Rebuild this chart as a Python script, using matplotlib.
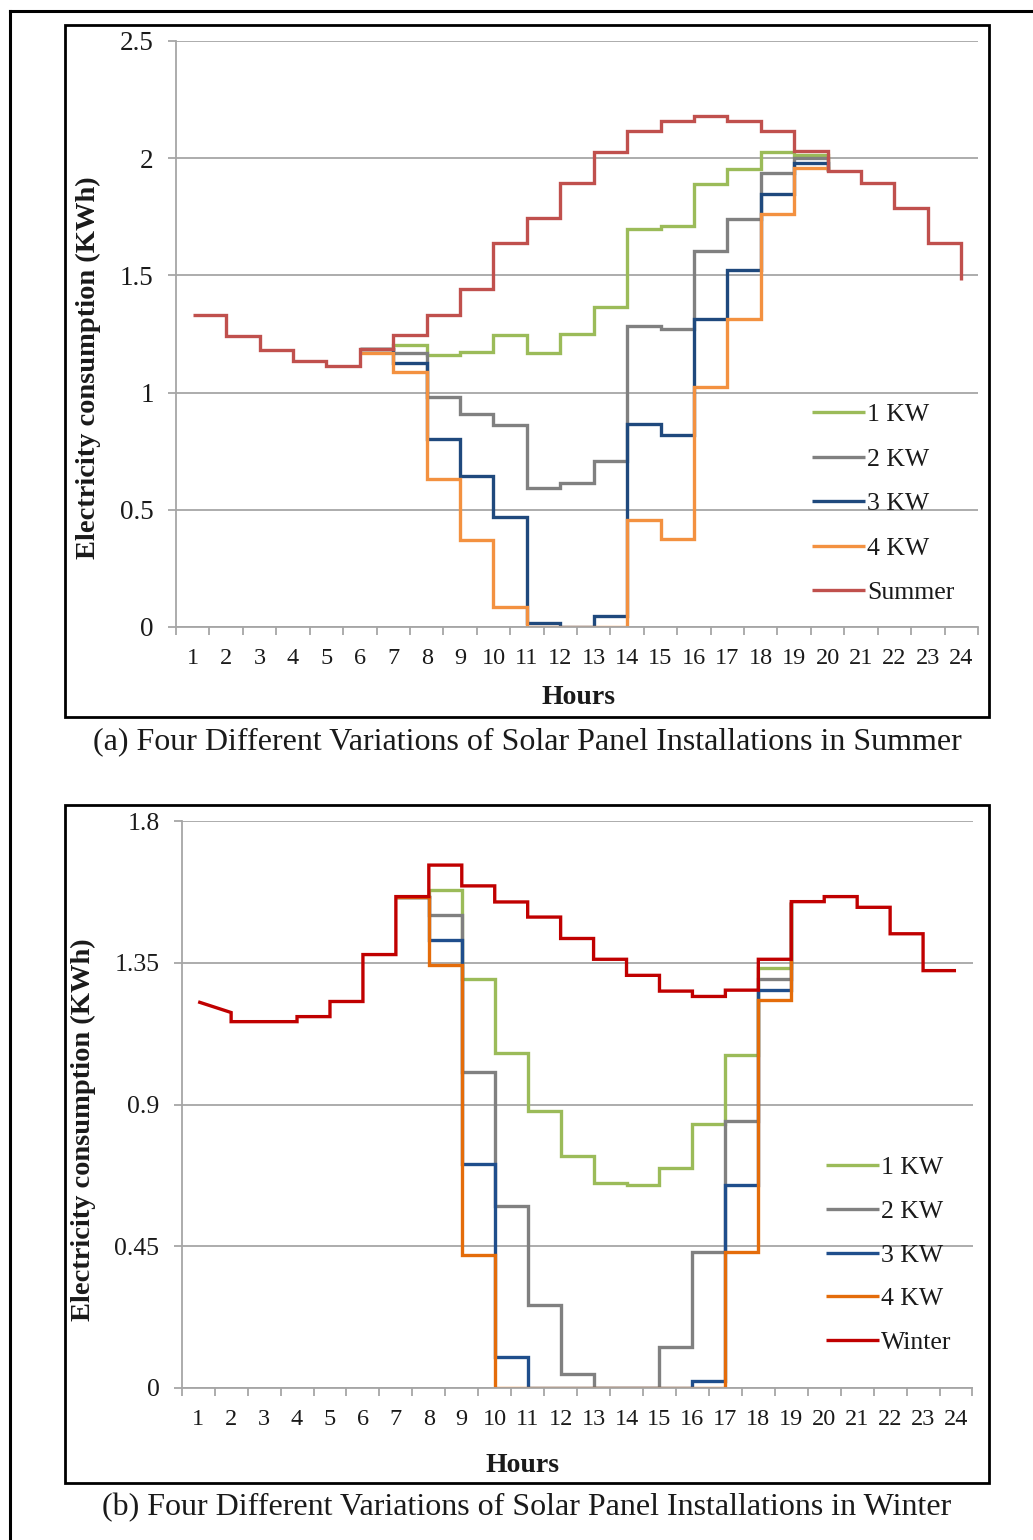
import numpy as np
import matplotlib
matplotlib.use("Agg")
import matplotlib.pyplot as plt
from matplotlib.patches import Rectangle
from matplotlib.lines import Line2D

plt.rcParams['font.family'] = ['Liberation Serif', 'DejaVu Serif']

# ---- data ----
hours = np.arange(1, 25)
hour_labels = [str(h) for h in hours]

summer = [1.332, 1.240, 1.183, 1.134, 1.112, 1.185, 1.245, 1.332, 1.442, 1.638,
          1.743, 1.894, 2.025, 2.117, 2.158, 2.179, 2.158, 2.117, 2.030, 1.946,
          1.894, 1.787, 1.638, 1.479]
summer_kw_hours = np.arange(6, 21)
summer_1kw = [1.185, 1.205, 1.160, 1.174, 1.244, 1.167, 1.252, 1.366, 1.696, 1.711,
              1.890, 1.952, 2.027, 2.014, 1.946]
summer_2kw = [1.185, 1.170, 0.983, 0.907, 0.863, 0.594, 0.613, 0.709, 1.285, 1.271,
              1.604, 1.740, 1.937, 2.000, 1.946]
summer_3kw = [1.185, 1.125, 0.801, 0.643, 0.470, 0.019, 0.0, 0.048, 0.866, 0.819,
              1.313, 1.523, 1.849, 1.978, 1.946]
summer_4kw = [1.168, 1.090, 0.631, 0.371, 0.085, 0.0, 0.0, 0.0, 0.455, 0.376,
              1.024, 1.313, 1.761, 1.960, 1.946]

winter = [1.226, 1.163, 1.163, 1.179, 1.227, 1.376, 1.560, 1.660, 1.594, 1.543,
          1.495, 1.427, 1.361, 1.310, 1.260, 1.243, 1.263, 1.361, 1.544, 1.560,
          1.526, 1.442, 1.325, 1.325]
winter_ramp_end = 1.192   # hour 1 -> 2 is a slanted segment in the source
winter_kw_hours = np.arange(7, 20)
winter_1kw = [1.560, 1.582, 1.299, 1.062, 0.880, 0.736, 0.651, 0.644, 0.698, 0.838,
              1.056, 1.333, 1.544]
winter_2kw = [1.560, 1.501, 1.004, 0.578, 0.265, 0.043, 0.0, 0.0, 0.131, 0.432,
              0.849, 1.299, 1.544]
winter_3kw = [1.560, 1.421, 0.711, 0.097, 0.0, 0.0, 0.0, 0.0, 0.0, 0.022,
              0.643, 1.265, 1.544]
winter_4kw = [1.560, 1.344, 0.421, 0.0, 0.0, 0.0, 0.0, 0.0, 0.0, 0.0,
              0.432, 1.232, 1.544]

kw_labels = ["1 KW", "2 KW", "3 KW", "4 KW"]

W, H = 1033, 1540
fig = plt.figure(figsize=(W / 100, H / 100), dpi=100)
fig.patch.set_facecolor('white')
TXT = '#1a1a1a'


def fx(x):
    return x / W


def fy(y):
    return 1 - y / H


def step_path(x, y):
    x = np.asarray(x, float)
    y = np.asarray(y, float)
    xs = np.repeat(x, 2)[1:]
    ys = np.repeat(y, 2)[:-1]
    return xs, ys


def style_axes(ax, ymax, yticks, ytick_size):
    ax.set_xlim(0.5, 24.5)
    ax.set_ylim(0, ymax)
    ax.set_yticks(yticks)
    ax.set_yticklabels([f"{t:g}" for t in yticks])
    ax.set_xticks(hours)
    ax.set_xticklabels(hour_labels)
    ax.set_xticks(np.arange(0.5, 25, 1), minor=True)
    for s in ['top', 'right']:
        ax.spines[s].set_visible(False)
    for s in ['left', 'bottom']:
        ax.spines[s].set_color('#A6A6A6')
        ax.spines[s].set_linewidth(1.3)
    ax.grid(axis='y', color='#A6A6A6', linewidth=1.3)
    ax.set_axisbelow(True)
    ax.tick_params(axis='x', which='major', length=0, pad=15, labelsize=17.5)
    ax.tick_params(axis='x', which='minor', length=6, color='#A6A6A6', width=1.3,
                   direction='out')
    ax.tick_params(axis='y', length=6, color='#A6A6A6', width=1.3, pad=10,
                   labelsize=ytick_size)
    for lbl in ax.get_xticklabels() + ax.get_yticklabels():
        lbl.set_color(TXT)


line_kw = dict(linewidth=2.4, solid_joinstyle='miter', solid_capstyle='butt')
leg_kw = dict(loc='upper left', frameon=False, fontsize=18.5, handlelength=2.05,
              handletextpad=0.1, borderpad=0, borderaxespad=0)

# ---- outer frame and panel frames ----
fig.add_artist(Line2D([fx(10), fx(W + 5)], [fy(11), fy(11)], color='black', lw=2.2))
fig.add_artist(Line2D([fx(10), fx(10)], [fy(11), fy(H + 5)], color='black', lw=2.2))
for top, bottom in [(25, 717), (805, 1483)]:
    fig.add_artist(Rectangle((fx(65), fy(bottom)), fx(989) - fx(65), fy(top) - fy(bottom),
                             fill=False, edgecolor='black', linewidth=2.0,
                             transform=fig.transFigure))

# ---- (a) summer ----
ax1 = fig.add_axes([fx(176), fy(627), fx(978) - fx(176), fy(41) - fy(627)])
style_axes(ax1, 2.5, [0, 0.5, 1, 1.5, 2, 2.5], 19.5)
top_colors = ['#9BBB59', '#808080', '#1F497D', '#F39140']
for vals, col, lab in zip([summer_1kw, summer_2kw, summer_3kw, summer_4kw], top_colors, kw_labels):
    xs, ys = step_path(summer_kw_hours, vals)
    ax1.plot(xs, ys, color=col, label=lab, **line_kw)
xs, ys = step_path(hours, summer)
ax1.plot(xs, ys, color='#C0504D', label='Summer', **line_kw)
leg1 = ax1.legend(bbox_to_anchor=((812 - 176) / 802, (627 - 403) / 586),
                  labelspacing=0.84, **leg_kw)
for t in leg1.get_texts():
    t.set_color(TXT)
fig.text(fx(88), fy(368), "Electricity consumption (KWh)", rotation=90, ha='center',
         va='center', fontsize=20.5, fontweight='bold', color=TXT)
fig.text(fx(578), fy(698), "Hours", ha='center', va='center', fontsize=20,
         fontweight='bold', color=TXT)
fig.text(fx(527), fy(742), "(a) Four Different Variations of Solar Panel Installations in Summer",
         ha='center', va='center', fontsize=23, color=TXT)

# ---- (b) winter ----
ax2 = fig.add_axes([fx(181.7), fy(1388), fx(972.5) - fx(181.7), fy(821) - fy(1388)])
style_axes(ax2, 1.8, [0, 0.45, 0.9, 1.35, 1.8], 18.5)
bot_colors = ['#9BBB59', '#808080', '#1F4E8C', '#E46C0A']
for vals, col, lab in zip([winter_1kw, winter_2kw, winter_3kw, winter_4kw], bot_colors, kw_labels):
    xs, ys = step_path(winter_kw_hours, vals)
    ax2.plot(xs, ys, color=col, label=lab, **line_kw)
sx, sy = step_path(hours[1:], winter[1:])
xs = np.concatenate([[hours[0], hours[1]], sx])
ys = np.concatenate([[winter[0], winter_ramp_end], sy])
ax2.plot(xs, ys, color='#C00000', label='Winter', **line_kw)
leg2 = ax2.legend(bbox_to_anchor=((826 - 181.7) / 790.8, (1388 - 1156) / 567),
                  labelspacing=0.81, **leg_kw)
for t in leg2.get_texts():
    t.set_color(TXT)
fig.text(fx(83), fy(1130), "Electricity consumption (KWh)", rotation=90, ha='center',
         va='center', fontsize=20.5, fontweight='bold', color=TXT)
fig.text(fx(522), fy(1466), "Hours", ha='center', va='center', fontsize=20,
         fontweight='bold', color=TXT)
fig.text(fx(527), fy(1508), "(b) Four Different Variations of Solar Panel Installations in Winter",
         ha='center', va='center', fontsize=23, color=TXT)

fig.savefig("out.png", dpi=100)
